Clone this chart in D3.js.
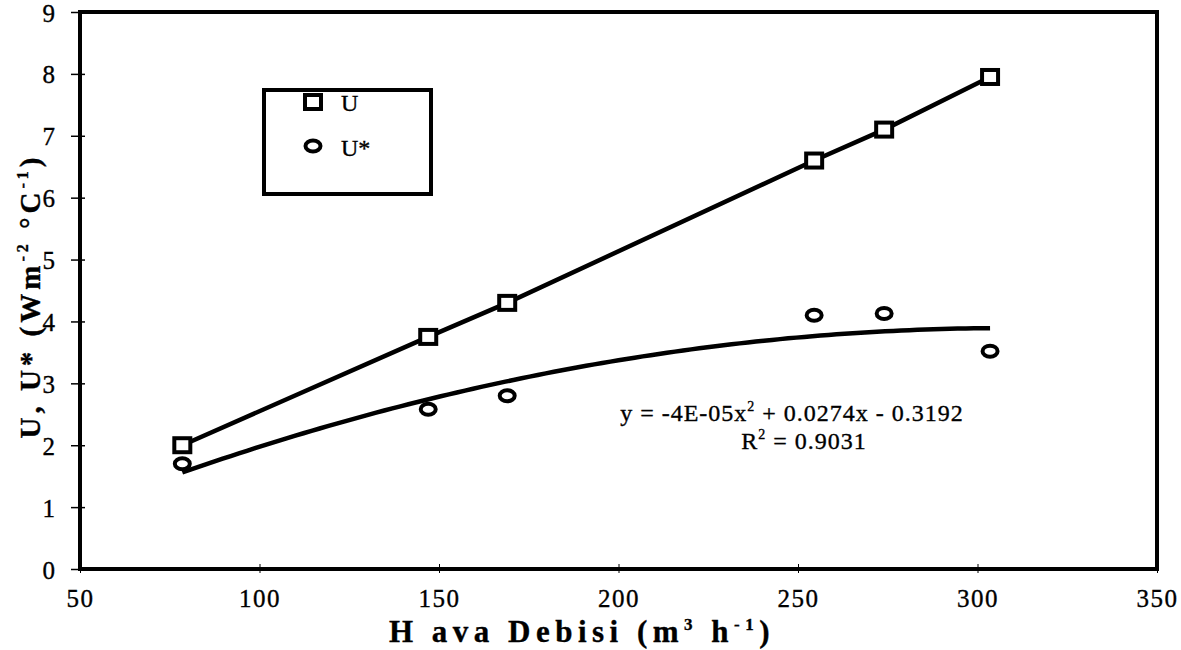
<!DOCTYPE html>
<html>
<head>
<meta charset="utf-8">
<script src="https://cdn.jsdelivr.net/npm/d3@7"></script>
<style>
  html, body { margin: 0; padding: 0; background: #fff; }
  svg { display: block; }
  svg text { font-family: "Liberation Serif", "Times New Roman", serif; fill: #000; stroke: #000; stroke-width: 0.35px; }
</style>
</head>
<body>
<svg id="chart" width="1181" height="650"></svg>
<script>
// Air flow rate (m3/h) and heat transfer coefficients
const flowU = [78.5, 147, 169, 254.5, 274, 303.5];
const valuesU = [2.0, 3.75, 4.3, 6.6, 7.1, 7.95];
const flowUStar = [78.5, 147, 169, 254.5, 274, 303.5];
const valuesUStar = [1.7, 2.58, 2.8, 4.1, 4.13, 3.52];
const xTicks = [50, 100, 150, 200, 250, 300, 350];
const yTicks = [0, 1, 2, 3, 4, 5, 6, 7, 8, 9];

const svg = d3.select("#chart");
const m = { left: 80, right: 1157, top: 12, bottom: 569 };

const x = d3.scaleLinear().domain([50, 350]).range([m.left, m.right]);
const y = d3.scaleLinear().domain([0, 9]).range([m.bottom, m.top]);

// axes: ticks and labels
const yAxis = d3.axisLeft(y).tickValues(yTicks).tickSize(8).tickPadding(17);
const gy = svg.append("g").attr("transform", `translate(${m.left},0)`).call(yAxis);
gy.attr("font-family", null);
gy.select(".domain").remove();
gy.selectAll(".tick line").attr("x2", -9).attr("x1", 5).attr("stroke", "#000").attr("stroke-width", 1.5);
gy.selectAll(".tick text").attr("font-size", 25).attr("dy", "0.36em");

const xAxis = d3.axisBottom(x).tickValues(xTicks).tickSize(4).tickPadding(16);
const gx = svg.append("g").attr("transform", `translate(0,${m.bottom})`).call(xAxis);
gx.attr("font-family", null);
gx.select(".domain").remove();
gx.selectAll(".tick line").attr("y1", -5).attr("y2", 4).attr("stroke", "#000").attr("stroke-width", 1);
gx.selectAll(".tick text").attr("font-size", 25).attr("letter-spacing", 1.5);

// plot frame
svg.append("rect")
  .attr("x", m.left).attr("y", m.top)
  .attr("width", m.right - m.left).attr("height", m.bottom - m.top)
  .attr("fill", "none").attr("stroke", "#000").attr("stroke-width", 4);

// U series: connected line
const line = d3.line().x(d => x(d[0])).y(d => y(d[1]));
const ptsU = flowU.map((f, i) => [f, valuesU[i]]);
svg.append("path").datum(ptsU).attr("d", line)
  .attr("fill", "none").attr("stroke", "#000").attr("stroke-width", 4.5);

// U* series: second-order least-squares trend line
function quadFit(xs, ys) {
  const n = xs.length;
  const s = [0, 0, 0, 0, 0], t = [0, 0, 0];
  for (let i = 0; i < n; i++) {
    for (let k = 0; k <= 4; k++) s[k] += Math.pow(xs[i], k);
    for (let k = 0; k <= 2; k++) t[k] += ys[i] * Math.pow(xs[i], k);
  }
  const A = [[s[0], s[1], s[2], t[0]], [s[1], s[2], s[3], t[1]], [s[2], s[3], s[4], t[2]]];
  for (let c = 0; c < 3; c++) {
    let p = c;
    for (let r = c + 1; r < 3; r++) if (Math.abs(A[r][c]) > Math.abs(A[p][c])) p = r;
    [A[c], A[p]] = [A[p], A[c]];
    for (let r = 0; r < 3; r++) {
      if (r === c) continue;
      const f = A[r][c] / A[c][c];
      for (let k = c; k < 4; k++) A[r][k] -= f * A[c][k];
    }
  }
  return [A[0][3] / A[0][0], A[1][3] / A[1][1], A[2][3] / A[2][2]]; // c0, c1, c2
}
const coef = quadFit(flowUStar, valuesUStar);
const x0 = d3.min(flowUStar), x1 = d3.max(flowUStar);
const trend = d3.range(0, 101).map(i => {
  const xv = x0 + (x1 - x0) * i / 100;
  return [xv, coef[0] + coef[1] * xv + coef[2] * xv * xv];
});
svg.append("path").datum(trend).attr("d", line)
  .attr("fill", "none").attr("stroke", "#000").attr("stroke-width", 4.5);

// markers
function square(g, cx, cy) {
  g.append("rect").attr("x", cx - 8).attr("y", cy - 7).attr("width", 16).attr("height", 14)
    .attr("fill", "#fff").attr("stroke", "#000").attr("stroke-width", 4);
}
function ring(g, cx, cy) {
  g.append("ellipse").attr("cx", cx).attr("cy", cy).attr("rx", 7.5).attr("ry", 5.5)
    .attr("fill", "#fff").attr("stroke", "#000").attr("stroke-width", 4);
}
const mk = svg.append("g");
ptsU.forEach(d => square(mk, x(d[0]), y(d[1])));
flowUStar.forEach((f, i) => ring(mk, x(f), y(valuesUStar[i])));

// legend
const lg = svg.append("g");
lg.append("rect").attr("x", 264).attr("y", 90).attr("width", 167).attr("height", 104)
  .attr("fill", "#fff").attr("stroke", "#000").attr("stroke-width", 4);
square(lg, 313, 102);
ring(lg, 313, 146);
lg.append("text").attr("x", 341).attr("y", 111).attr("font-size", 24).text("U");
lg.append("text").attr("x", 341).attr("y", 156).attr("font-size", 24).text("U*");

// trend equation
const eq = svg.append("text").attr("x", 792).attr("y", 421).attr("text-anchor", "middle")
  .attr("font-size", 24).attr("letter-spacing", 1);
eq.append("tspan").text("y = -4E-05x");
eq.append("tspan").attr("font-size", 14).attr("dy", -10).text("2");
eq.append("tspan").attr("dy", 10).text(" + 0.0274x - 0.3192");
const r2 = svg.append("text").attr("x", 804).attr("y", 449).attr("text-anchor", "middle")
  .attr("font-size", 24).attr("letter-spacing", 1);
r2.append("tspan").text("R");
r2.append("tspan").attr("font-size", 14).attr("dy", -10).text("2");
r2.append("tspan").attr("dy", 10).text(" = 0.9031");

// axis titles
const xt = svg.append("text").attr("x", 582).attr("y", 642).attr("text-anchor", "middle")
  .attr("font-size", 31).attr("font-weight", "bold").attr("letter-spacing", 5.5);
xt.append("tspan").text("H ava Debisi (m");
xt.append("tspan").attr("font-size", 17).attr("dy", -12).text("3");
xt.append("tspan").attr("dy", 12).text(" h");
xt.append("tspan").attr("font-size", 17).attr("dy", -12).text("-1");
xt.append("tspan").attr("dy", 12).text(")");

const yt = svg.append("text").attr("transform", "translate(40,296) rotate(-90)").attr("text-anchor", "middle")
  .attr("font-size", 29).attr("font-weight", "bold").attr("letter-spacing", 4);
yt.append("tspan").text("U, U* (Wm");
yt.append("tspan").attr("font-size", 16).attr("dy", -12).text("-2");
yt.append("tspan").attr("dy", 12).text(" °C");
yt.append("tspan").attr("font-size", 16).attr("dy", -12).text("-1");
yt.append("tspan").attr("dy", 12).text(")");
</script>
</body>
</html>
